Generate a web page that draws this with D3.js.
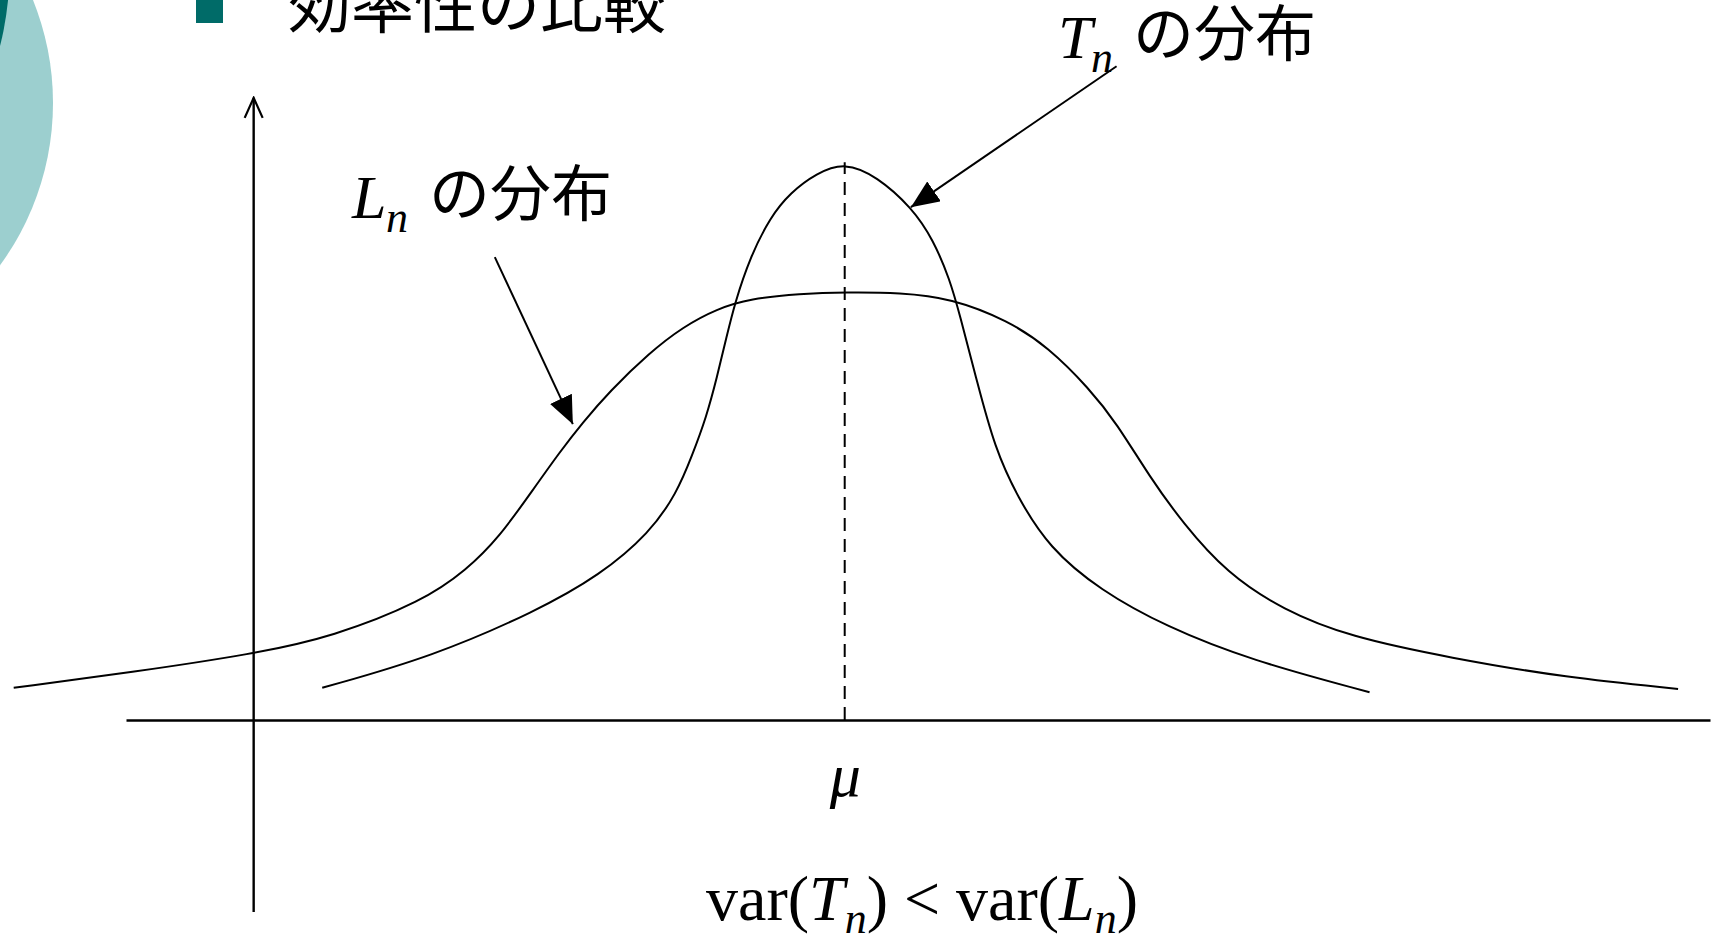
<!DOCTYPE html>
<html>
<head>
<meta charset="utf-8">
<script src="https://cdn.jsdelivr.net/npm/d3@7"></script>
<style>
  html, body { margin: 0; padding: 0; background: #fff; overflow: hidden; }
  .serif { font-family: "Liberation Serif", "DejaVu Serif", serif; }
  .jp { font-family: "Noto Sans CJK JP", "Noto Sans", sans-serif; }
</style>
</head>
<body>
<svg id="chart" width="1717" height="936"></svg>
<script>
// Đường cong T_n (hẹp, cao) và L_n (rộng, thấp): [x, mật độ]
const mu = 5;
const curveT = [
  [0.58, 0.058], [1.51, 0.114], [2.39, 0.196], [2.93, 0.261], [3.35, 0.337],
  [3.58, 0.409], [3.71, 0.477], [3.83, 0.546], [3.92, 0.618], [4.00, 0.690],
  [4.07, 0.751], [4.20, 0.834], [4.37, 0.906], [4.54, 0.950], [4.76, 0.985],
  [5.00, 1.005], [5.27, 0.980], [5.57, 0.923], [5.75, 0.865], [5.89, 0.793],
  [5.97, 0.733], [6.12, 0.609], [6.27, 0.490], [6.46, 0.402], [6.73, 0.310],
  [7.16, 0.234], [7.72, 0.168], [8.43, 0.108], [9.44, 0.050]
];
const curveL = [
  [-2.03, 0.058], [-1.03, 0.086], [0.00, 0.119], [0.67, 0.150], [1.43, 0.214],
  [1.80, 0.270], [2.08, 0.330], [2.36, 0.414], [2.59, 0.483], [2.78, 0.535],
  [3.01, 0.592], [3.35, 0.662], [3.63, 0.708], [3.92, 0.741], [4.20, 0.759],
  [4.62, 0.768], [5.01, 0.771], [5.47, 0.770], [5.90, 0.760], [6.38, 0.720],
  [6.72, 0.672], [7.07, 0.597], [7.30, 0.535], [7.58, 0.438], [7.86, 0.355],
  [8.23, 0.265], [8.71, 0.198], [9.27, 0.150], [10.12, 0.112], [11.11, 0.076],
  [12.05, 0.056]
];
// Mũi tên chú thích: [x1, y1, x2, y2] trong đơn vị dữ liệu
const arrowL = [2.04, 0.834, 2.70, 0.533];
const arrowT = [7.30, 1.178, 5.56, 0.924];

const svg = d3.select("#chart");

// Trang trí kiểu slide (hình tròn xanh bên trái)
svg.append("circle").attr("cx", -222).attr("cy", 103).attr("r", 275).attr("fill", "#9ccfcf");
svg.append("circle").attr("cx", -300).attr("cy", -30).attr("r", 309.5).attr("fill", "#006b68");
svg.append("rect").attr("x", 196).attr("y", -4).attr("width", 27).attr("height", 27).attr("fill", "#006b68");
svg.append("text").attr("class", "jp")
  .attr("x", 288).attr("y", 27)
  .style("font-size", "63px")
  .text("効率性の比較");

// Thang đo
const x = d3.scaleLinear().domain([-1.08, 12.32]).range([126, 1710]);
const y = d3.scaleLinear().domain([0, 1]).range([720, 165]);

// Mũi tên
const defs = svg.append("defs");
defs.append("marker")
  .attr("id", "head")
  .attr("markerUnits", "userSpaceOnUse")
  .attr("viewBox", "0 0 28 24")
  .attr("refX", 28).attr("refY", 12)
  .attr("markerWidth", 28).attr("markerHeight", 24)
  .attr("orient", "auto")
  .append("path").attr("d", "M0,0 L28,12 L0,24 Z").attr("fill", "#000");
defs.append("marker")
  .attr("id", "open")
  .attr("markerUnits", "userSpaceOnUse")
  .attr("viewBox", "0 0 24 22")
  .attr("refX", 22).attr("refY", 11)
  .attr("markerWidth", 24).attr("markerHeight", 22)
  .attr("orient", "auto")
  .append("path").attr("d", "M2,2 L22,11 L2,20").attr("fill", "none")
  .attr("stroke", "#000").attr("stroke-width", 2.2);

// Trục X (chỉ có μ)
const xAxis = svg.append("g")
  .attr("transform", `translate(0,${y(0)})`)
  .call(d3.axisBottom(x).tickValues([mu]).tickFormat(() => "μ").tickSize(0).tickSizeOuter(0));
xAxis.select(".domain").attr("stroke", "#000").attr("stroke-width", 2.4);
xAxis.selectAll("text")
  .attr("class", "serif")
  .attr("dy", null)
  .attr("y", 76)
  .attr("fill", "#000")
  .style("font-size", "62px")
  .style("font-style", "italic");

// Trục Y
svg.append("line")
  .attr("x1", x(0)).attr("x2", x(0))
  .attr("y1", y(-0.346)).attr("y2", y(1.121))
  .attr("stroke", "#000").attr("stroke-width", 2.4)
  .attr("marker-end", "url(#open)");

// Đường nét đứt tại μ
svg.append("line")
  .attr("x1", x(mu)).attr("x2", x(mu))
  .attr("y1", y(0)).attr("y2", y(1.005))
  .attr("stroke", "#000").attr("stroke-width", 2)
  .attr("stroke-dasharray", "13,8");

// Vẽ hai đường cong
const line = d3.line().x(d => x(d[0])).y(d => y(d[1])).curve(d3.curveBasis);
[curveL, curveT].forEach(c => {
  svg.append("path")
    .datum(c)
    .attr("d", line)
    .attr("fill", "none")
    .attr("stroke", "#000")
    .attr("stroke-width", 2);
});

// Mũi tên chú thích
[arrowL, arrowT].forEach(a => {
  svg.append("line")
    .attr("x1", x(a[0])).attr("y1", y(a[1]))
    .attr("x2", x(a[2])).attr("y2", y(a[3]))
    .attr("stroke", "#000").attr("stroke-width", 2)
    .attr("marker-end", "url(#head)");
});

// Nhãn L_n の分布
svg.append("text").attr("class", "serif").attr("x", 352).attr("y", 218)
  .style("font-size", "62px").style("font-style", "italic").text("L");
svg.append("text").attr("class", "serif").attr("x", 386).attr("y", 232)
  .style("font-size", "44px").style("font-style", "italic").text("n");
svg.append("text").attr("class", "jp").attr("x", 429).attr("y", 216)
  .style("font-size", "61px").text("の分布");

// Nhãn T_n の分布
svg.append("text").attr("class", "serif").attr("x", 1058).attr("y", 58)
  .style("font-size", "62px").style("font-style", "italic").text("T");
svg.append("text").attr("class", "serif").attr("x", 1091).attr("y", 72)
  .style("font-size", "44px").style("font-style", "italic").text("n");
svg.append("text").attr("class", "jp").attr("x", 1133).attr("y", 56)
  .style("font-size", "61px").text("の分布");

// Chú thích dưới: var(T_n) < var(L_n)
const bottom = svg.append("text").attr("class", "serif")
  .attr("x", 706).attr("y", 920)
  .style("font-size", "64px");
bottom.append("tspan").text("var(");
bottom.append("tspan").style("font-style", "italic").text("T");
bottom.append("tspan").style("font-style", "italic").style("font-size", "44px").attr("dy", 13).text("n");
bottom.append("tspan").attr("dy", -13).text(") < var(");
bottom.append("tspan").style("font-style", "italic").text("L");
bottom.append("tspan").style("font-style", "italic").style("font-size", "44px").attr("dy", 13).text("n");
bottom.append("tspan").attr("dy", -13).text(")");
</script>
</body>
</html>
